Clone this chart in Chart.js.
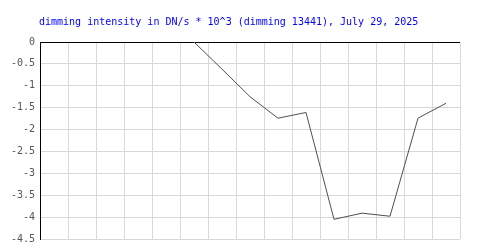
<!DOCTYPE html>
<html>
<head>
<meta charset="utf-8">
<script src="https://cdn.jsdelivr.net/npm/chart.js@4/dist/chart.umd.min.js"></script>
<style>
  html, body { margin: 0; padding: 0; background: #fff; }
  #wrap { width: 500px; height: 250px; }
</style>
</head>
<body>
<div id="wrap"><canvas id="grafico"></canvas></div>
<script>
// dados
const titulo = 'dimming intensity in DN/s * 10^3 (dimming 13441), July 29, 2025';
const categorias = ['1', '2', '3', '4', '5', '6', '7', '8', '9', '10', '11', '12', '13', '14', '15'];
const intensidade = [null, null, null, null, null, 0, -0.62, -1.25, -1.74, -1.61, -4.05, -3.91, -3.98, -1.74, -1.40];
const yMin = -4.5;
const yMax = 0;
const yPasso = 0.5;

// desenha o título em texto azul, alinhado à esquerda
const tituloPlugin = {
    id: 'tituloPlugin',
    afterDraw(chart) {
        const ctx = chart.ctx;
        ctx.save();
        ctx.font = '10px "DejaVu Sans Mono", monospace';
        ctx.fillStyle = '#0000ff';
        ctx.textBaseline = 'middle';
        ctx.textAlign = 'left';
        ctx.fillText(titulo, 39, 22);
        ctx.restore();
    }
};

const ctx = document.getElementById('grafico').getContext('2d');
const myChart = new Chart(ctx, {
    type: 'line',
    data: {
        labels: categorias,
        datasets: [{
            data: intensidade,
            borderColor: '#505050',
            borderWidth: 1,
            pointRadius: 0,
            tension: 0,
            fill: false,
            spanGaps: false
        }]
    },
    options: {
        responsive: true,
        maintainAspectRatio: false,
        animation: false,
        layout: { padding: { top: 42, left: 0, right: 40, bottom: 11 } },
        plugins: {
            legend: { display: false },
            title: { display: false },
            tooltip: { enabled: false }
        },
        scales: {
            x: {
                offset: true,
                grid: { offset: true, color: '#d8d8d8', lineWidth: 1, drawTicks: false },
                border: { display: false },
                ticks: { display: false }
            },
            y: {
                min: yMin,
                max: yMax,
                ticks: {
                    stepSize: yPasso,
                    color: '#555555',
                    padding: 5,
                    font: { family: '"DejaVu Sans Mono", monospace', size: 10 },
                    // sem casas decimais desnecessárias (-1 em vez de -1.0)
                    callback: (v) => String(Number(v))
                },
                grid: {
                    drawTicks: false,
                    lineWidth: 1,
                    color: (c) => (c.tick && c.tick.value === 0 ? '#000000' : '#d8d8d8')
                },
                border: { display: true, color: '#000000', width: 1 },
                afterFit(scale) { scale.width = 40; }
            }
        }
    },
    plugins: [tituloPlugin]
});
</script>
</body>
</html>
